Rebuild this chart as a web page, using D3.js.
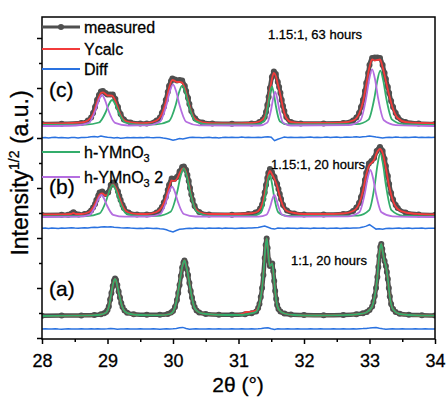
<!DOCTYPE html>
<html>
<head>
<meta charset="utf-8">
<script src="https://cdn.jsdelivr.net/npm/d3@7"></script>
<style>
  body { margin: 0; background: #fff; }
  svg { display: block; font-family: "Liberation Sans", Arial, sans-serif; }
  svg text { fill: #000; stroke: #000; stroke-width: 0.3px; }
  .tick text { font-size: 18px; }
  .tick line { stroke: #000; stroke-width: 1.5; }
</style>
</head>
<body>
<div id="chart"></div>
<script>
// 2theta range and tick labels
const xTicks = [28, 29, 30, 31, 32, 33, 34];
const yTicks = d3.range(0, 301, 25);

// ---- panel (c): 1.15:1, 63 hours ----
const measuredC = [[28.0,214],[28.3,214.2],[28.6,215],[28.7,217.5],[28.75,220.5],[28.78,225],[28.81,231],[28.84,238],[28.87,243],[28.9,246.5],[28.93,247],[28.97,245],[29.0,243.5],[29.04,243.5],[29.08,243.5],[29.12,239],[29.16,231],[29.2,224],[29.25,218.5],[29.35,215.5],[29.5,214.5],
  [29.6,214.5],[29.75,217.5],[29.8,220.5],[29.83,225],[29.86,231],[29.89,238],[29.92,246],[29.94,252],[29.97,257],[29.99,259.5],[30.03,258.5],[30.06,257.5],[30.1,258],[30.14,257.5],[30.18,252],[30.2,247],[30.23,240],[30.25,234],[30.28,227],[30.34,219.5],[30.45,215.5],[30.6,214.5],
  [30.9,214.3],[31.2,214.5],[31.32,216],[31.37,218.5],[31.4,221],[31.42,226],[31.44,233],[31.46,241],[31.48,250],[31.51,261],[31.54,266.5],[31.57,264],[31.6,256],[31.62,251],[31.64,245],[31.66,238],[31.68,232],[31.7,227],[31.73,221],[31.8,216],[31.95,214.5],
  [32.3,214.6],[32.6,215],[32.75,217.5],[32.8,220.5],[32.84,225],[32.87,231],[32.9,238],[32.93,247],[32.95,255],[32.98,265],[33.0,273],[33.04,280],[33.08,280.5],[33.12,280.5],[33.16,280],[33.2,273],[33.23,265],[33.25,259],[33.28,251],[33.3,245],[33.33,237],[33.36,231],[33.4,225],[33.43,221],[33.55,216],[33.75,214.5],[34.0,214]];
const calcC = [[28.0,214.5],[28.3,214.6],[28.6,215.5],[28.7,217.5],[28.78,224],[28.84,236],[28.9,245],[28.93,245.7],[28.97,244],[29.0,242.5],[29.04,242.5],[29.07,242.3],[29.1,240],[29.15,232],[29.2,223],[29.25,218],[29.35,215.5],[29.5,214.8],
  [29.6,215],[29.75,217.5],[29.83,224],[29.89,236],[29.94,250],[29.99,258],[30.03,257],[30.06,256],[30.1,256],[30.13,255.7],[30.18,250],[30.23,238],[30.28,226],[30.34,219],[30.45,215.5],[30.6,214.8],
  [30.9,214.7],[31.2,215],[31.32,216.5],[31.4,221],[31.44,232],[31.48,248],[31.51,259],[31.54,265],[31.57,262],[31.6,254],[31.64,243],[31.68,230],[31.73,220],[31.8,216],[31.95,215],
  [32.3,215],[32.6,215.5],[32.75,217.5],[32.84,224],[32.9,236],[32.95,253],[33.0,271],[33.04,278.5],[33.08,277.5],[33.12,278],[33.16,278.5],[33.2,271],[33.25,257],[33.3,243],[33.36,229],[33.43,220],[33.55,216],[33.75,215],[34.0,214.8]];
const phase1C = [[28.0,213],[28.67,213.4],[28.87,215.5],[28.97,225.5],[29.02,233.5],[29.07,238],[29.12,233.5],[29.17,225.5],[29.27,215.5],[29.47,213.4],
  [29.74,213.6],[29.94,216.9],[30.04,232.7],[30.09,245.2],[30.14,252.3],[30.19,245.2],[30.24,232.7],[30.34,216.9],[30.54,213.6],
  [31.27,213.6],[31.39,216.8],[31.45,232.2],[31.48,244.4],[31.51,251.3],[31.54,244.4],[31.57,232.2],[31.63,216.8],[31.75,213.6],
  [32.805,213.8],[32.985,218.4],[33.075,240.2],[33.12,257.5],[33.165,267.3],[33.21,257.5],[33.255,240.2],[33.345,218.4],[33.525,213.8],[34.0,213]];
const phase2C = [[28.0,212],[28.515,212.5],[28.715,215.1],[28.815,227.5],[28.865,237.4],[28.915,243],[28.965,237.4],[29.015,227.5],[29.115,215.1],[29.315,212.5],
  [29.6,212.6],[29.8,216.2],[29.9,232.9],[29.95,246.2],[30.0,253.7],[30.05,246.2],[30.1,232.9],[30.2,216.2],[30.4,212.6],
  [31.32,212.5],[31.44,215.4],[31.5,229],[31.53,239.9],[31.56,246],[31.59,239.9],[31.62,229],[31.68,215.4],[31.8,212.5],
  [32.68,212.9],[32.86,217.7],[32.95,240.4],[32.995,258.5],[33.04,268.7],[33.085,258.5],[33.13,240.4],[33.22,217.7],[33.4,212.9],[34.0,212]];
const diffOffsetC = 200.3;
const diffC = [0,.3,-.2,.1,.4,-.1,.2,0,-.3,.2, .1,-.2,.3,.2,.5,.9,1.2,.8,1.6,1.0,
  .4,.1,-.3,.2,-.5,-.2,.1,0,.3,-.1, .2,0,.4,.1,-.1,.3,.2,-.4,-.9,-1.6,
  -2.6,-1.8,-.8,-1.2,-.5,.2,.4,.1,.3,-.1, .2,.4,0,.3,-.2,.1,.5,.2,.4,.1,
  .3,.6,.2,.4,.1,.3,.5,.2,.6,1.0, .5,-3.0,-1.5,-.4,.6,.2,.4,.1,.3,.5,
  .2,.4,.6,.3,.5,.2,.4,.7,.3,.5, .6,.3,.5,.8,.4,.6,.9,.5,1.0,1.3,
  1.8,1.2,.6,.2,-.4,.3,.5,.2,.6,.4, .3,.5,.2,.4,.6,.3,.5,.2,.4,.3, .4];

// ---- panel (b): 1.15:1, 20 hours ----
const measuredB = [[28.0,123],[28.3,123.2],[28.4,123.3],[28.45,124.5],[28.48,125.8],[28.51,124.3],[28.56,123.4],[28.65,124],[28.72,125.5],[28.75,127.5],[28.78,130.5],[28.81,134],[28.83,138],[28.86,142.5],[28.88,145.5],[28.92,146.5],[28.97,144],[29.01,145.5],[29.05,153],[29.085,155.5],[29.12,153],[29.16,146.5],[29.18,142],[29.2,138],[29.23,133],[29.25,130],[29.32,125.5],[29.45,123.5],
  [29.6,123.5],[29.75,125.5],[29.8,128],[29.83,131],[29.86,135.5],[29.89,141],[29.92,148],[29.94,153],[29.98,159.5],[30.02,159],[30.06,161],[30.1,166.5],[30.14,171],[30.165,171.5],[30.2,168],[30.22,163],[30.24,157],[30.26,150],[30.28,143.5],[30.3,138],[30.33,132],[30.4,126],[30.55,123.5],
  [30.9,123.3],[31.15,124],[31.26,125.5],[31.33,129.5],[31.36,133.5],[31.38,139],[31.4,145.5],[31.42,153],[31.44,160],[31.455,165],[31.48,169],[31.51,166],[31.55,161],[31.59,154],[31.61,149],[31.63,144],[31.65,139],[31.68,133],[31.74,127.5],[31.85,124.5],[32.0,123.5],
  [32.3,123.5],[32.6,124],[32.75,127],[32.8,130.5],[32.84,135],[32.87,141],[32.9,149],[32.93,158],[32.95,165],[32.99,174.5],[33.03,177],[33.07,180],[33.11,187],[33.16,191],[33.2,187],[33.23,179],[33.25,172],[33.28,162],[33.3,154],[33.33,145],[33.36,138.5],[33.4,133],[33.43,130],[33.55,125.5],[33.75,123.5],[34.0,123]];
const calcB = [[28.0,123.5],[28.3,123.6],[28.44,124],[28.48,125],[28.52,124],[28.6,124],[28.72,126],[28.78,130.5],[28.83,137],[28.88,143.5],[28.92,144.5],[28.97,142.5],[29.01,144],[29.05,151],[29.085,153.7],[29.12,151],[29.16,145],[29.2,137],[29.25,129.5],[29.32,125.5],[29.45,124],
  [29.6,124],[29.75,126],[29.83,131],[29.89,140],[29.94,151],[29.98,157.5],[30.02,157],[30.06,159],[30.1,164.5],[30.14,169],[30.165,169.7],[30.2,166],[30.24,155],[30.28,142],[30.33,131],[30.4,126],[30.55,124],
  [30.9,124],[31.15,124.5],[31.26,125.5],[31.33,129],[31.38,138],[31.42,151],[31.455,163],[31.48,167],[31.51,164],[31.55,159],[31.59,152],[31.63,142],[31.68,132],[31.74,127],[31.85,125],[32.0,124],
  [32.3,124],[32.6,124.5],[32.75,127],[32.84,134],[32.9,147],[32.95,163],[32.99,172],[33.03,175],[33.07,178],[33.11,185],[33.16,189],[33.2,185],[33.25,170],[33.3,152],[33.36,137],[33.43,129],[33.55,125.5],[33.75,124],[34.0,123.5]];
const phase1B = [[28.0,121.5],[28.68,122],[28.88,124.7],[28.98,137.3],[29.03,147.3],[29.08,153],[29.13,147.3],[29.18,137.3],[29.28,124.7],[29.48,122],
  [29.763,122.2],[29.963,126.3],[30.063,145.6],[30.113,161],[30.163,169.7],[30.213,161],[30.263,145.6],[30.363,126.3],[30.563,122.2],
  [31.216,122.1],[31.346,125.7],[31.411,142.3],[31.4435,155.5],[31.476,163],[31.5085,155.5],[31.541,142.3],[31.606,125.7],[31.736,122.1],
  [32.825,122.4],[32.995,127.8],[33.08,153.1],[33.1225,173.3],[33.165,184.7],[33.2075,173.3],[33.25,153.1],[33.335,127.8],[33.505,122.4],[34.0,121.5]];
const phase2B = [[28.0,121],[28.546,121.3],[28.726,123.2],[28.816,132],[28.861,139],[28.906,143],[28.951,139],[28.996,132],[29.086,123.2],[29.266,121.3],
  [29.625,121.5],[29.805,124],[29.895,136.2],[29.94,145.8],[29.985,151.3],[30.03,145.8],[30.075,136.2],[30.165,124],[30.345,121.5],
  [31.307,121.3],[31.427,123.2],[31.487,132],[31.517,139],[31.547,143],[31.577,139],[31.607,132],[31.667,123.2],[31.787,121.3],
  [32.673,121.7],[32.843,125.7],[32.928,144.5],[32.9705,159.5],[33.013,168],[33.0555,159.5],[33.098,144.5],[33.183,125.7],[33.353,121.7],[34.0,121]];
const diffOffsetB = 109.7;
const diffB = [0,.2,-.1,.3,.1,-.2,.2,.1,.3,.5, .2,.1,.4,.6,.3,.8,1.0,.7,1.2,1.5,
  1.2,1.6,1.0,.8,.5,.3,.6,.2,.1,-.2, .1,-.1,.2,0,-.3,.1,-.4,-.8,-1.5,-2.8,
  -3.6,-2.2,-1.0,-.6,-.2,.1,-.1,.2,0,.1, -.1,.2,0,.1,.3,-.1,.2,0,.1,-.2,
  .1,.3,0,.2,.4,.6,.8,1.6,2.2,1.0, -.2,-.8,.3,.1,-.2,.2,0,.1,-.1,.2,
  0,.1,-.2,.2,0,.1,.3,-.1,.1,0, .2,-.1,.1,.3,0,.2,.4,.6,1.2,2.2,
  3.6,1.5,-.8,-.4,-.9,-.2,.1,-.3,0,.2, -.1,.1,.3,-.2,.1,0,.2,-.1,.1,0, .1];

// ---- panel (a): 1:1, 20 hours ----
const measuredA = [[28.0,22.3],[28.3,22.4],[28.6,22.6],[28.8,23],[28.9,23.8],[28.95,24.8],[28.98,26],[29.0,28],[29.02,31.5],[29.04,38.5],[29.06,45],[29.08,52],[29.1,57.5],[29.115,59.5],[29.13,58],[29.15,53],[29.17,46.5],[29.19,40.5],[29.21,35],[29.23,31],[29.26,27.5],[29.3,25.3],[29.4,23.8],[29.6,23.2],[29.8,23.2],
  [29.92,24],[29.97,25.5],[30.0,27],[30.03,31],[30.06,38],[30.08,45],[30.1,53],[30.12,62],[30.14,70.5],[30.16,75.5],[30.175,77.5],[30.19,75],[30.21,69],[30.23,63],[30.25,55],[30.27,47],[30.29,40.5],[30.31,35],[30.33,31],[30.36,27.5],[30.4,25.5],[30.5,24],[30.7,23.3],
  [30.9,23.2],[31.1,23.8],[31.2,24.8],[31.27,26.5],[31.3,30],[31.32,34],[31.34,41],[31.36,50],[31.38,63],[31.4,80],[31.415,93],[31.43,99.5],[31.445,90],[31.46,78],[31.48,72],[31.5,73.5],[31.515,74.5],[31.53,67],[31.545,57],[31.56,47],[31.575,39],[31.59,33],[31.61,29],[31.64,26.5],[31.7,24.5],[31.8,23.5],
  [32.0,23],[32.3,22.8],[32.6,23],[32.8,23.8],[32.9,24.8],[32.96,26],[33.0,28],[33.04,31.5],[33.06,36],[33.08,42],[33.1,50],[33.12,61],[33.135,71],[33.15,82],[33.165,91],[33.18,94],[33.195,89],[33.21,83],[33.23,77],[33.25,72],[33.265,66],[33.28,59],[33.295,50],[33.31,41.5],[33.33,34],[33.36,29],[33.4,26],[33.46,24.3],[33.6,23.2],[33.8,22.8],[34.0,22.5]];
const calcA = [[28.0,22],[28.5,22.3],[28.8,22.8],[28.9,23.5],[28.95,24.5],[28.99,26.3],[29.02,31],[29.04,38],[29.07,49],[29.1,57.5],[29.115,59],[29.13,57.5],[29.16,49],[29.19,40],[29.22,32],[29.27,26.3],[29.35,24],[29.5,23],[29.8,22.8],
  [29.95,24],[30.0,26.3],[30.05,36],[30.1,55],[30.14,71],[30.175,77.5],[30.2,72],[30.23,63],[30.26,51],[30.29,40],[30.33,30],[30.4,25.5],[30.5,24],[30.8,23],
  [31.0,23.3],[31.07,24.5],[31.12,26],[31.18,26.2],[31.24,26.8],[31.28,28],[31.33,37],[31.36,50],[31.385,68],[31.41,90],[31.43,99.5],[31.45,88],[31.475,72],[31.5,73.5],[31.515,74.5],[31.535,64],[31.555,50],[31.58,36],[31.62,28],[31.7,24.5],[31.85,23],
  [32.2,22.5],[32.6,22.8],[32.85,24],[32.95,25.5],[33.04,31.5],[33.08,42],[33.1,50],[33.12,61],[33.145,81],[33.165,91],[33.18,94],[33.2,87],[33.225,78],[33.25,72],[33.28,59],[33.31,41],[33.36,28.5],[33.46,24],[33.6,23],[34.0,22.3]];
const phase1A = [[28.0,22],[28.5,22.3],[28.8,22.8],[28.9,23.5],[28.95,24.5],[28.99,26.3],[29.02,31],[29.04,38],[29.07,49],[29.1,57.5],[29.115,59],[29.13,57.5],[29.16,49],[29.19,40],[29.22,32],[29.27,26.3],[29.35,24],[29.5,23],[29.8,22.8],
  [29.95,24],[30.0,26.3],[30.05,36],[30.1,55],[30.14,71],[30.175,77.5],[30.2,72],[30.23,63],[30.26,51],[30.29,40],[30.33,30],[30.4,25.5],[30.5,24],[30.8,23],
  [31.0,23],[31.15,24],[31.27,26.3],[31.33,37],[31.36,50],[31.385,68],[31.41,90],[31.43,99.5],[31.45,88],[31.475,72],[31.5,73.5],[31.515,74.5],[31.535,64],[31.555,50],[31.58,36],[31.62,28],[31.7,24.5],[31.85,23],
  [32.2,22.5],[32.6,22.8],[32.85,24],[32.95,25.5],[33.04,31.5],[33.08,42],[33.1,50],[33.12,61],[33.145,81],[33.165,91],[33.18,94],[33.2,87],[33.225,78],[33.25,72],[33.28,59],[33.31,41],[33.36,28.5],[33.46,24],[33.6,23],[34.0,22.3]];
const diffOffsetA = 9;
const diffA = [0,.2,-.1,.1,.3,0,-.2,.1,.2,-.1, .1,0,.2,-.1,.1,.3,0,.2,-.1,.1,
  .2,.5,.3,-.2,0,.1,.2,-.1,.1,0, .2,-.1,.1,0,.2,.1,-.2,.1,.3,.1,
  .2,.6,1.2,1.6,.5,-.3,.1,.2,0,.1, -.1,.2,0,.1,.2,-.1,.1,0,.2,.1,
  0,.2,.1,-.1,.3,.1,.2,.4,.9,1.3, .2,-.5,.3,.1,0,.2,-.1,.1,.2,0,
  .1,-.1,.2,0,.1,.2,-.1,.1,0,.2, .1,0,.2,-.1,.1,.2,0,.3,.4,.6,
  .9,1.3,1.6,.8,.2,-.3,.1,.2,0,.1, .2,-.1,.1,0,.2,.1,-.1,.2,0,.1, .1];

const diffTheta = d3.range(121).map(i => 28 + i * 0.05);

const panels = [
  { label: "(c)", note: "1.15:1, 63 hours", measured: measuredC, calc: calcC, phase1: phase1C, phase2: phase2C, diff: diffC, diffOffset: diffOffsetC },
  { label: "(b)", note: "1.15:1, 20 hours", measured: measuredB, calc: calcB, phase1: phase1B, phase2: phase2B, diff: diffB, diffOffset: diffOffsetB },
  { label: "(a)", note: "1:1, 20 hours", measured: measuredA, calc: calcA, phase1: phase1A, phase2: null, diff: diffA, diffOffset: diffOffsetA },
];

const colors = { measured: "#4f4f4f", calc: "#f23b3b", diff: "#2a72e0", phase1: "#33ad6b", phase2: "#b56ee0" };

const W = 446, H = 397;
const margin = { top: 17, right: 11, bottom: 58, left: 42 };

const svg = d3.select("#chart").append("svg").attr("width", W).attr("height", H);
svg.append("rect").attr("width", W).attr("height", H).attr("fill", "#fff");

const x = d3.scaleLinear().domain([28, 34]).range([margin.left, W - margin.right]);
const y = d3.scaleLinear().domain([-1, 321]).range([H - margin.bottom, margin.top]);

svg.append("defs").append("clipPath").attr("id", "clip")
  .append("rect")
  .attr("x", margin.left).attr("y", margin.top)
  .attr("width", W - margin.left - margin.right)
  .attr("height", H - margin.top - margin.bottom);

const line = d3.line().x(d => x(d[0])).y(d => y(d[1])).curve(d3.curveMonotoneX);

const plot = svg.append("g").attr("clip-path", "url(#clip)");

panels.forEach(p => {
  // measured: thick line plus dots
  plot.append("path").attr("d", line(p.measured))
    .attr("fill", "none").attr("stroke", colors.measured).attr("stroke-width", 4.5);
  plot.append("g").selectAll("circle").data(p.measured).join("circle")
    .attr("cx", d => x(d[0])).attr("cy", d => y(d[1])).attr("r", 3)
    .attr("fill", colors.measured);

  plot.append("path").attr("d", line(p.calc))
    .attr("fill", "none").attr("stroke", colors.calc).attr("stroke-width", 1.8);

  const diffLine = d3.line()
    .x((d, i) => x(diffTheta[i]))
    .y(d => y(p.diffOffset + d));
  plot.append("path").attr("d", diffLine(p.diff))
    .attr("fill", "none").attr("stroke", colors.diff).attr("stroke-width", 1.5);

  plot.append("path").attr("d", line(p.phase1))
    .attr("fill", "none").attr("stroke", colors.phase1).attr("stroke-width", 1.8);
  if (p.phase2) {
    plot.append("path").attr("d", line(p.phase2))
      .attr("fill", "none").attr("stroke", colors.phase2).attr("stroke-width", 1.8);
  }
});

// Axes
const xAxis = svg.append("g")
  .attr("transform", "translate(0," + (H - margin.bottom) + ")")
  .call(d3.axisBottom(x).tickValues(xTicks).tickFormat(d3.format("d")).tickSize(5).tickPadding(10));
xAxis.select(".domain").remove();
svg.append("g")
  .attr("transform", "translate(0," + (H - margin.bottom) + ")")
  .call(d3.axisBottom(x).tickValues(d3.range(28.5, 34, 1)).tickFormat("").tickSize(3))
  .select(".domain").remove();

const yAxis = svg.append("g")
  .attr("transform", "translate(" + margin.left + ",0)")
  .call(d3.axisLeft(y).tickValues(yTicks.filter(v => v % 50 === 0)).tickFormat("").tickSize(5));
yAxis.select(".domain").remove();
svg.append("g")
  .attr("transform", "translate(" + margin.left + ",0)")
  .call(d3.axisLeft(y).tickValues(yTicks.filter(v => v % 50 !== 0)).tickFormat("").tickSize(3))
  .select(".domain").remove();

// Frame
svg.append("rect")
  .attr("x", margin.left).attr("y", margin.top)
  .attr("width", W - margin.left - margin.right)
  .attr("height", H - margin.top - margin.bottom)
  .attr("fill", "none").attr("stroke", "#000").attr("stroke-width", 1.5);

// Axis titles
svg.append("text")
  .attr("x", 238).attr("y", 392)
  .attr("text-anchor", "middle").attr("font-size", 21)
  .text("2θ (°)");

const yTitle = svg.append("text")
  .attr("transform", "translate(28,173) rotate(-90)")
  .attr("text-anchor", "middle").attr("font-size", 23);
yTitle.append("tspan").text("Intensity");
yTitle.append("tspan").attr("dy", -9).attr("font-size", 14).text("1/2");
yTitle.append("tspan").attr("dy", 9).text(" (a.u.)");

// Panel labels and sample notes
const labelY = [97, 194, 296];
const noteXY = [[268, 38.5], [271, 168.5], [291, 264.5]];
panels.forEach((p, i) => {
  svg.append("text").attr("x", 49).attr("y", labelY[i])
    .attr("font-size", 21).text(p.label);
  svg.append("text").attr("x", noteXY[i][0]).attr("y", noteXY[i][1])
    .attr("font-size", 13).text(p.note);
});

// Legends
const legend1 = [
  { key: "measured", text: "measured", y: 27 },
  { key: "calc", text: "Ycalc", y: 49 },
  { key: "diff", text: "Diff", y: 69 },
];
legend1.forEach(l => {
  svg.append("line").attr("x1", 42).attr("x2", 80).attr("y1", l.y).attr("y2", l.y)
    .attr("stroke", colors[l.key]).attr("stroke-width", l.key === "measured" ? 3 : 2);
  if (l.key === "measured") {
    svg.append("circle").attr("cx", 61).attr("cy", l.y).attr("r", 3).attr("fill", colors.measured);
  }
  svg.append("text").attr("x", 84).attr("y", l.y).attr("dy", "0.35em")
    .attr("font-size", 16).text(l.text);
});

const legend2 = [
  { key: "phase1", y: 152, suffix: "" },
  { key: "phase2", y: 177, suffix: " 2" },
];
legend2.forEach(l => {
  svg.append("line").attr("x1", 42).attr("x2", 80).attr("y1", l.y).attr("y2", l.y)
    .attr("stroke", colors[l.key]).attr("stroke-width", 2);
  const t = svg.append("text").attr("x", 84).attr("y", l.y).attr("dy", "0.35em").attr("font-size", 16);
  t.append("tspan").text("h-YMnO");
  t.append("tspan").attr("dy", 4).attr("font-size", 11).text("3");
  if (l.suffix) t.append("tspan").attr("dy", -4).text(l.suffix);
});
</script>
</body>
</html>
